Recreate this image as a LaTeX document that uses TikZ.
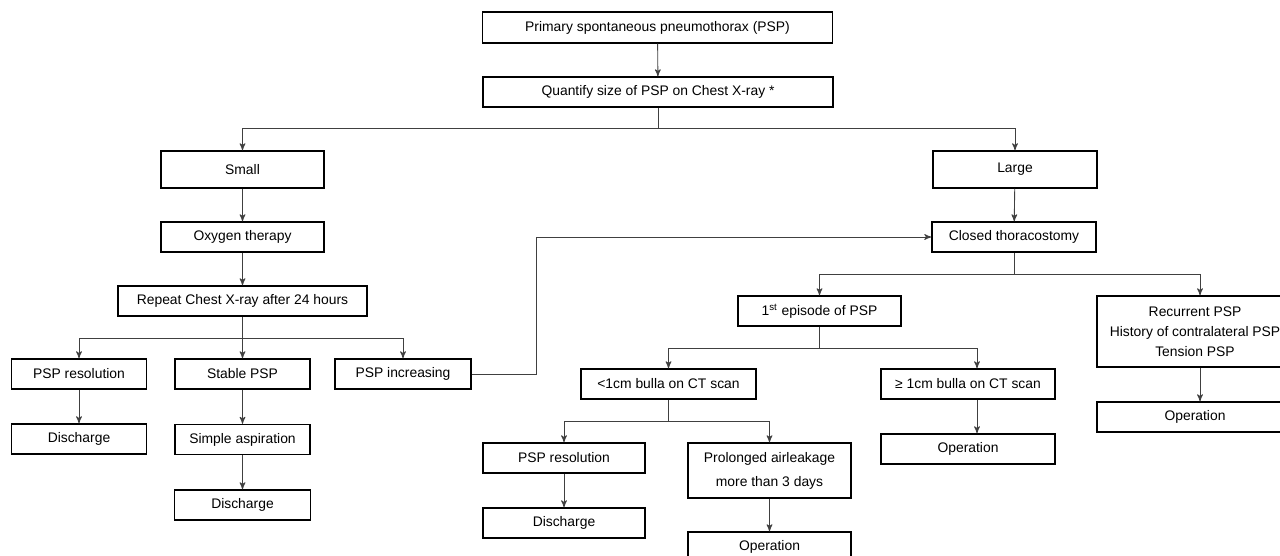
\documentclass[tikz,border=0pt]{standalone}
\usepackage{fontspec}
\setmainfont{Liberation Sans}
\usetikzlibrary{arrows}
\usetikzlibrary{calc}

\begin{document}
\begin{tikzpicture}[x=0.02cm, y=-0.02cm, >=stealth',
  box/.style={draw=black, line width=0.85pt, inner sep=1pt, minimum height=0.6cm,
    align=center, font=\fontsize{7.9}{11.3}\selectfont},
  link/.style={draw=black!75, line width=0.5pt}]
\useasboundingbox (0,0) rectangle (1280,555);

\node[box, minimum width=7cm, minimum height=0.62cm] (psp) at (657.5,27.5) {Primary spontaneous pneumothorax (PSP)};
\node[box, minimum width=7cm] (quant) at (658,92) {Quantify size of PSP on Chest X-ray *};
\node[box, minimum width=3.26cm, minimum height=0.74cm] (small) at (242.5,169.5) {Small};
\node[box, minimum width=3.28cm, minimum height=0.74cm] (large) at (1015,169.5) {Large};
\node[box, minimum width=3.26cm] (oxygen) at (242.5,237) {Oxygen therapy};
\node[box, minimum width=3.28cm] (closed) at (1014,237) {Closed thoracostomy};
\node[box, minimum width=4.98cm] (repeat) at (242.5,301) {Repeat Chest X-ray after 24 hours};

% small PSP branch
\node[box, minimum width=2.7cm] (resolL) at (79,374) {PSP resolution};
\node[box, minimum width=2.7cm] (stable) at (242.5,374) {Stable PSP};
\node[box, minimum width=2.72cm] (increase) at (403,374) {PSP increasing};
\node[box, minimum width=2.7cm] (dischL) at (79,439) {Discharge};
\node[box, minimum width=2.7cm] (aspir) at (242.5,439.5) {Simple aspiration};
\node[box, minimum width=2.72cm] (dischM) at (242.5,505) {Discharge};

% large PSP branch
\node[box, minimum width=3.26cm] (first) at (819.5,311) {1\textsuperscript{st} episode of PSP};
\node[box, minimum width=3.5cm] (bullaS) at (668.5,384) {<1cm bulla on CT scan};
\node[box, minimum width=3.48cm] (bullaL) at (968,384) {≥ 1cm bulla on CT scan};
\node[box, minimum width=3.92cm, minimum height=1.42cm] (recur) at (1195,331.5) {Recurrent PSP\\History of contralateral PSP\\Tension PSP};
\node[box, minimum width=3.92cm] (operR) at (1195,417) {Operation};
\node[box, minimum width=3.48cm] (operL) at (968,449) {Operation};
\node[box, minimum width=3.24cm] (resolR) at (564,458) {PSP resolution};
\node[box, minimum width=3.24cm] (dischR) at (564,523) {Discharge};
\node[box, minimum width=3.26cm, minimum height=1.1cm, font=\fontsize{7.9}{13.6}\selectfont] (prolong) at (769.5,470.5) {Prolonged airleakage\\more than 3 days};
\node[box, minimum width=3.26cm] (operP) at (769.5,547) {Operation};

\draw[link,->] (psp) -- (quant);
\draw[link,->] (quant.south) -- ++(0,21) -| (small.north);
\draw[link,->] (quant.south) -- ++(0,21) -| (large.north);
\draw[link,->] (small) -- (oxygen);
\draw[link,->] (oxygen) -- (repeat);
\foreach \n in {resolL, stable, increase}
  \draw[link,->] (repeat.south) -- ++(0,22) -| (\n.north);
\draw[link,->] (resolL) -- (dischL);
\draw[link,->] (stable) -- (aspir);
\draw[link,->] (aspir) -- (dischM);
\draw[link,->] (increase.east) -- ++(65,0) |- (closed.west);
\draw[link,->] (large) -- (closed);
\draw[link,->] (closed.south) -- ++(0,22) -| (first.north);
\draw[link,->] (closed.south) -- ++(0,22) -| ($(recur.north)+(5,0)$);
\draw[link,->] (first.south) -- ++(0,22) -| (bullaS.north);
\draw[link,->] (first.south) -- ++(0,22) -| ($(bullaL.north)+(9,0)$);
\draw[link,->] (bullaS.south) -- ++(0,22) -| (resolR.north);
\draw[link,->] (bullaS.south) -- ++(0,22) -| (prolong.north);
\draw[link,->] (resolR) -- (dischR);
\draw[link,->] (prolong) -- (operP);
\draw[link,->] ($(bullaL.south)+(9,0)$) -- ($(operL.north)+(9,0)$);
\draw[link,->] ($(recur.south)+(5,0)$) -- ($(operR.north)+(5,0)$);
\end{tikzpicture}
\end{document}
